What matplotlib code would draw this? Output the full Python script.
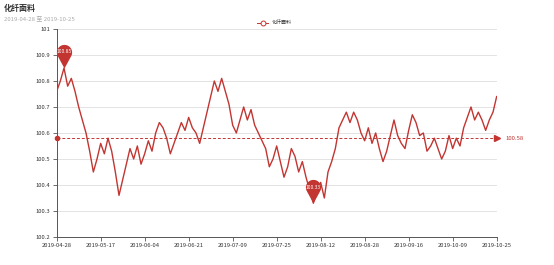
import numpy as np
import matplotlib.pyplot as plt
from matplotlib.path import Path
from matplotlib.lines import Line2D

plt.rcParams['font.family'] = ['Noto Sans CJK SC', 'DejaVu Sans']

TITLE = "化纤面料"
SUBTITLE = "2019-04-28 至 2019-10-25"
SERIES_NAME = "化纤面料"

# one value per data point, tick labels every 12 points
TICK_LABELS = ["2019-04-28", "2019-05-17", "2019-06-04", "2019-06-21", "2019-07-09",
               "2019-07-25", "2019-08-12", "2019-08-28", "2019-09-16", "2019-10-09",
               "2019-10-25"]
VALUES = [
    100.76, 100.80, 100.85, 100.78, 100.81, 100.76, 100.70, 100.65, 100.60, 100.53,
    100.45, 100.50, 100.56, 100.52, 100.58, 100.53, 100.45, 100.36, 100.42, 100.48,
    100.54, 100.50, 100.55, 100.48, 100.52, 100.57, 100.53, 100.60, 100.64, 100.62,
    100.58, 100.52, 100.56, 100.60, 100.64, 100.61, 100.66, 100.62, 100.60, 100.56,
    100.62, 100.68, 100.74, 100.80, 100.76, 100.81, 100.76, 100.71, 100.63, 100.60,
    100.65, 100.70, 100.65, 100.69, 100.63, 100.60, 100.57, 100.54, 100.47, 100.50,
    100.55, 100.49, 100.43, 100.47, 100.54, 100.51, 100.45, 100.49, 100.43, 100.38,
    100.33, 100.38, 100.41, 100.35, 100.45, 100.49, 100.54, 100.62, 100.65, 100.68,
    100.64, 100.68, 100.65, 100.60, 100.57, 100.62, 100.56, 100.60, 100.54, 100.49,
    100.53, 100.59, 100.65, 100.59, 100.56, 100.54, 100.61, 100.67, 100.64, 100.59,
    100.60, 100.53, 100.55, 100.58, 100.54, 100.50, 100.53, 100.59, 100.54, 100.58,
    100.55, 100.62, 100.66, 100.70, 100.65, 100.68, 100.65, 100.61, 100.65, 100.68,
    100.74,
]
MEAN_VALUE = 100.58
Y_TICKS = [100.2, 100.3, 100.4, 100.5, 100.6, 100.7, 100.8, 100.9, 101.0]
Y_LABELS = ["100.2", "100.3", "100.4", "100.5", "100.6", "100.7", "100.8", "100.9", "101"]

RED = "#c23531"

# pin marker: tip at origin, round head above
ang = np.radians(np.linspace(-28.4, 208.4, 40))
head = np.column_stack([np.cos(ang), 2.1 + np.sin(ang)])
pin_verts = np.vstack([[0, 0], head, [0, 0]])
pin_codes = [Path.MOVETO] + [Path.LINETO] * (len(pin_verts) - 2) + [Path.CLOSEPOLY]
PIN = Path(pin_verts, pin_codes)

fig = plt.figure(figsize=(5.54, 2.65), dpi=100)
ax = fig.add_axes([0.1023, 0.1057, 0.7942, 0.785])

x = np.arange(len(VALUES))
ax.plot(x, VALUES, color=RED, lw=1.0, zorder=3)

# mean line
ax.plot([x[0], x[-1]], [MEAN_VALUE, MEAN_VALUE], color=RED, lw=0.7, ls=(0, (3, 2)), zorder=2)
ax.plot([x[0]], [MEAN_VALUE], 'o', color=RED, ms=3, clip_on=False, zorder=4)
ax.plot([x[-1]], [MEAN_VALUE], '>', color=RED, ms=4, clip_on=False, zorder=4)
ax.annotate(f"{MEAN_VALUE:.2f}", (x[-1], MEAN_VALUE), xytext=(6, 0), textcoords='offset points',
            va='center', ha='left', fontsize=4.3, color=RED, annotation_clip=False)

# max / min pins
vals = np.array(VALUES)
for idx in [int(vals.argmax()), int(vals.argmin())]:
    ax.plot([idx], [vals[idx]], marker=PIN, ms=34, color=RED, mec='none', zorder=5, clip_on=False)
    ax.annotate(f"{vals[idx]:.2f}", (idx, vals[idx]), xytext=(0, 11.5), textcoords='offset points',
                ha='center', va='center', fontsize=3.6, color='white', zorder=6)

ax.set_xlim(0, len(VALUES) - 1)
ax.set_ylim(100.2, 101.0)
ax.set_xticks(x[::12])
ax.set_xticklabels(TICK_LABELS)
ax.set_yticks(Y_TICKS)
ax.set_yticklabels(Y_LABELS)
ax.tick_params(labelsize=4.2, colors='#333333', length=3, width=0.6, pad=1.5)
ax.tick_params(axis='both', colors='#555555', labelcolor='#333333')
ax.grid(axis='y', color='#e3e3e3', lw=0.7)
ax.set_axisbelow(True)
for s in ['top', 'right']:
    ax.spines[s].set_visible(False)
for s in ['left', 'bottom']:
    ax.spines[s].set_color('#555555')
    ax.spines[s].set_linewidth(0.7)

# title and subtitle
fig.text(0.006, 0.985, TITLE, fontsize=5.8, fontweight='bold', color='#333333', va='top', ha='left')
fig.text(0.008, 0.932, SUBTITLE, fontsize=4.3, color='#aaaaaa', va='center', ha='left')

# legend
ly = 1 - 22.5 / 265
fig.add_artist(Line2D([257 / 554, 268 / 554], [ly, ly], color=RED, lw=0.7,
                      transform=fig.transFigure))
fig.add_artist(Line2D([262.5 / 554], [ly], marker='o', ms=3.5, mfc='white', mec=RED, mew=0.7,
                      transform=fig.transFigure))
fig.text(272 / 554, ly, SERIES_NAME, fontsize=3.6, color='#333333', va='center', ha='left')

fig.savefig("out.png", dpi=100)
